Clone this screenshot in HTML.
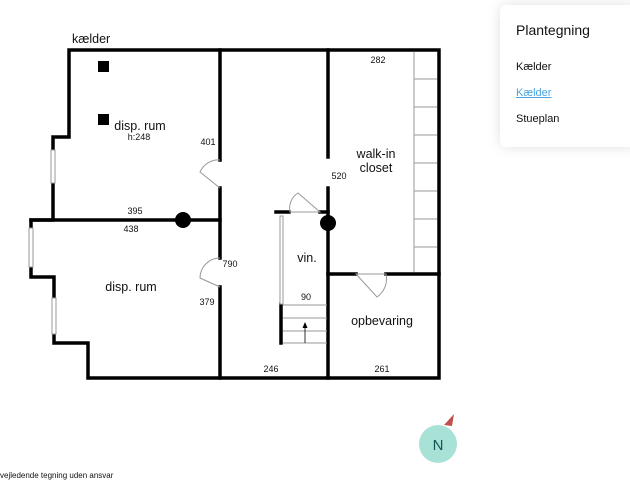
<!DOCTYPE html>
<html><head><meta charset="utf-8"><style>
body{margin:0;width:630px;height:480px;overflow:hidden;background:#fff;font-family:"Liberation Sans",sans-serif;position:relative}
svg{position:absolute;left:0;top:0}
.panel{position:absolute;left:500px;top:5px;width:140px;height:142px;background:#fff;border-radius:6px;box-shadow:0 0 12px rgba(0,0,0,0.12)}
.panel div{position:absolute;left:16px;font-size:11px;color:#111}
</style></head><body>
<svg width="630" height="480" viewBox="0 0 630 480">
<g fill="none" stroke="#000" stroke-width="3.5" stroke-linecap="square">
<polyline points="69,137 69,50 439,50 439,378 88,378 88,343 54,343 54,277 31,277 31,220 53,220 53,137 69,137"/>
<line x1="31" y1="220" x2="220" y2="220"/>
<line x1="220" y1="50" x2="220" y2="160"/>
<line x1="220" y1="188" x2="220" y2="258"/>
<line x1="220" y1="287" x2="220" y2="378"/>
<line x1="328" y1="50" x2="328" y2="157"/>
<line x1="328" y1="188" x2="328" y2="378"/>
<line x1="328" y1="274" x2="356" y2="274"/>
<line x1="386" y1="274" x2="439" y2="274"/>
<line x1="276" y1="212" x2="289" y2="212"/>
<line x1="320" y1="212" x2="328" y2="212"/>
<line x1="281" y1="304" x2="281" y2="343"/>
</g>
<!-- windows -->
<g fill="#fff" stroke="#999" stroke-width="1">
<rect x="51" y="150" width="4" height="33"/>
<rect x="29" y="228" width="4" height="39"/>
<rect x="52" y="298" width="4" height="36"/>
<rect x="280" y="216" width="3" height="88"/>
</g>
<g fill="none" stroke="#999" stroke-width="1">
<line x1="414" y1="52" x2="414" y2="272"/>
<line x1="414" y1="79" x2="437" y2="79"/><line x1="414" y1="107" x2="437" y2="107"/>
<line x1="414" y1="135" x2="437" y2="135"/><line x1="414" y1="163" x2="437" y2="163"/>
<line x1="414" y1="191" x2="437" y2="191"/><line x1="414" y1="219" x2="437" y2="219"/>
<line x1="414" y1="247" x2="437" y2="247"/>
<path d="M220,160 A20 20 0 0 0 200,172 L220,188"/>
<path d="M220,258 A20 20 0 0 0 200,278 L220,287"/>
<path d="M290,212 A18 18 0 0 1 298,193 L320,212 Z"/>
<path d="M356,274 L377,297 A22 22 0 0 0 386,274 Z"/>
<line x1="283" y1="305" x2="327" y2="305"/>
<line x1="283" y1="318" x2="327" y2="318"/>
<line x1="283" y1="331" x2="327" y2="331"/>
<line x1="283" y1="343" x2="327" y2="343"/>
</g>
<line x1="305" y1="343" x2="305" y2="327" stroke="#000" stroke-width="0.8"/>
<polygon points="305,322 302.5,328 307.5,328" fill="#000"/>
<rect x="98" y="61" width="11" height="11" fill="#000"/>
<rect x="98" y="114" width="11" height="11" fill="#000"/>
<circle cx="183" cy="220" r="8" fill="#000"/>
<circle cx="328" cy="223" r="8" fill="#000"/>
<g font-family="Liberation Sans, sans-serif" fill="#111" font-size="9" text-anchor="middle">
<text x="135" y="214">395</text><text x="131" y="232">438</text>
<text x="208" y="145">401</text><text x="230" y="267">790</text>
<text x="207" y="305">379</text><text x="271" y="372">246</text>
<text x="378" y="63">282</text><text x="339" y="179">520</text>
<text x="306" y="300">90</text><text x="382" y="372">261</text>
<text x="139" y="140">h:248</text>
</g>
<g font-family="Liberation Sans, sans-serif" fill="#111" font-size="12.5" text-anchor="middle">
<text x="140" y="130">disp. rum</text>
<text x="131" y="291">disp. rum</text>
<text x="307" y="262">vin.</text>
<text x="376" y="158">walk-in</text><text x="376" y="172">closet</text>
<text x="382" y="325">opbevaring</text>
</g>
<text x="72" y="43" font-size="12.5" fill="#111">kælder</text>
<text x="0" y="478" font-size="8" fill="#111">vejledende tegning uden ansvar</text>
<circle cx="438" cy="444" r="19" fill="#a8e2d6"/>
<text x="438" y="450" font-size="15" fill="#155" text-anchor="middle">N</text>
<polygon points="454,414 444,425 452,426" fill="#c0504d"/>
</svg>
<div class="panel">
<div style="top:17px;font-size:14px">Plantegning</div>
<div style="top:56px">Kælder</div>
<div style="top:82px;color:#4aa3df;text-decoration:underline">Kælder</div>
<div style="top:108px">Stueplan</div>
</div>
</body></html>
